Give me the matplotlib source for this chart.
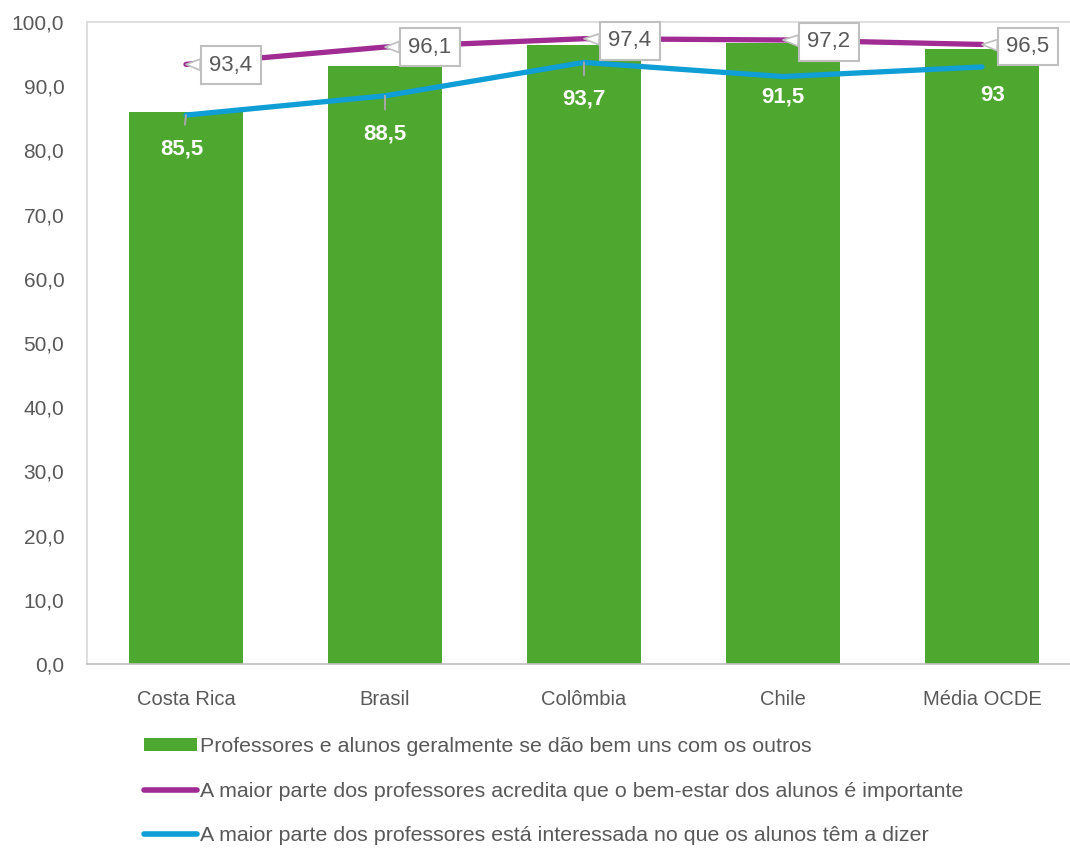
import matplotlib
matplotlib.use("Agg")
import matplotlib.pyplot as plt
from matplotlib.lines import Line2D
from matplotlib.patches import Patch

categories = ["Costa Rica", "Brasil", "Colômbia", "Chile", "Média OCDE"]
bar_values = [86.0, 93.2, 96.4, 96.7, 95.8]
wellbeing = [93.4, 96.1, 97.4, 97.2, 96.5]
interest = [85.5, 88.5, 93.7, 91.5, 93.0]

series_names = [
    "Professores e alunos geralmente se dão bem uns com os outros",
    "A maior parte dos professores acredita que o bem-estar dos alunos é importante",
    "A maior parte dos professores está interessada no que os alunos têm a dizer",
]
yticks = [0, 10, 20, 30, 40, 50, 60, 70, 80, 90, 100]

GREEN = "#4EA72E"
PURPLE = "#A02B93"
BLUE = "#0F9ED5"
GREY = "#595959"

def fmt(v):
    return f"{v:g}".replace(".", ",")

plt.rcParams["font.family"] = ["Liberation Sans", "DejaVu Sans"]

fig = plt.figure(figsize=(10.70, 8.49), dpi=100)
W, H = 1070, 849
ax = fig.add_axes([86.5 / W, 1 - 664 / H, 995 / W, (664 - 22) / H])

x = list(range(len(categories)))
ax.bar(x, bar_values, width=0.57, color=GREEN, zorder=2)
ax.plot(x, wellbeing, color=PURPLE, lw=3.8, solid_capstyle="round", zorder=3)
ax.plot(x, interest, color=BLUE, lw=3.8, solid_capstyle="round", zorder=3)

ax.set_xlim(-0.5, len(categories) - 0.5)
ax.set_ylim(0, 100)
ax.set_yticks(yticks)
ax.set_yticklabels([f"{t:.1f}".replace(".", ",") for t in yticks])
ax.set_xticks(x)
ax.set_xticklabels(categories)
ax.tick_params(axis="y", length=0, pad=16, labelsize=15, labelcolor=GREY)
ax.tick_params(axis="x", length=0, pad=19, labelsize=14.5, labelcolor=GREY)
for s in ["left", "top", "right"]:
    ax.spines[s].set_color("#D9D9D9")
    ax.spines[s].set_linewidth(1.2)
ax.spines["bottom"].set_color("#BFBFBF")
ax.spines["bottom"].set_linewidth(1.2)

# purple callout labels (offset in pixels -> points at 100 dpi)
px = 0.72
call_off = [(45, -1), (45, 0), (46, -2), (46, -2), (46, -2)]
for i, v in enumerate(wellbeing):
    dx, dy = call_off[i]
    ax.annotate(fmt(v), xy=(i, v), xytext=(dx * px, dy * px), textcoords="offset points",
                ha="center", va="center", fontsize=16, color=GREY, zorder=5,
                bbox=dict(boxstyle="square,pad=0.38", fc="white", ec="#BFBFBF", lw=1.5),
                arrowprops=dict(arrowstyle="wedge,tail_width=0.5,shrink_factor=0.5",
                                fc="white", ec="#BFBFBF", lw=1.2, shrinkA=0, shrinkB=0))

# blue labels inside bars
blue_off = [(-4, -34), (0, -38), (0, -37), (0, -20), (11, -29)]
leader = [True, True, True, False, False]
for i, v in enumerate(interest):
    dx, dy = blue_off[i]
    ap = dict(arrowstyle="-", color="#A6A6A6", lw=1.5, shrinkA=8, shrinkB=0) if leader[i] else None
    ax.annotate(fmt(v), xy=(i, v), xytext=(dx * px, dy * px), textcoords="offset points",
                ha="center", va="center", fontsize=16, fontweight="bold", color="white",
                zorder=5, arrowprops=ap)

handles = [
    Patch(facecolor=GREEN, edgecolor="none"),
    Line2D([0], [0], color=PURPLE, lw=4.0, solid_capstyle="round"),
    Line2D([0], [0], color=BLUE, lw=4.0, solid_capstyle="round"),
]
leg = fig.legend(handles, series_names, loc="upper left",
                 bbox_to_anchor=(144 / W, 1 - 737 / H), frameon=False,
                 borderpad=0, borderaxespad=0,
                 handlelength=2.5, handleheight=0.6, handletextpad=0.1, labelspacing=1.2,
                 prop=dict(size=15.4))
for t in leg.get_texts():
    t.set_color(GREY)

fig.savefig("out.png", dpi=100)
